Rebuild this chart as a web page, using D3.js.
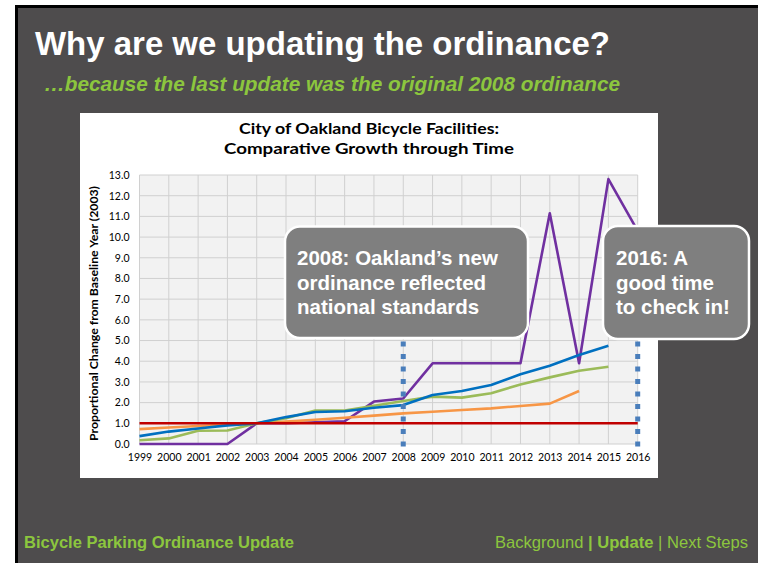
<!DOCTYPE html>
<html><head><meta charset="utf-8">
<script src="https://cdn.jsdelivr.net/npm/d3@7"></script>
<style>
html,body{margin:0;padding:0;background:#fff;}
svg{display:block;}
</style></head>
<body>
<script>
// ---- data ----
const years = [1999,2000,2001,2002,2003,2004,2005,2006,2007,2008,2009,2010,2011,2012,2013,2014,2015,2016];
const purpleValues = [0,0,0,0,1.0,1.0,1.05,1.1,2.05,2.2,3.9,3.9,3.9,3.9,11.15,3.9,12.8,10.3];
const orangeValues = [0.72,0.8,0.87,0.94,1.0,1.08,1.17,1.27,1.37,1.48,1.56,1.64,1.72,1.84,1.95,2.56,null,null];
const greenValues  = [0.18,0.27,0.64,0.65,1.0,1.24,1.62,1.62,1.85,2.08,2.29,2.24,2.45,2.88,3.22,3.54,3.73,null];
const blueValues   = [0.38,0.6,0.75,0.9,1.0,1.3,1.55,1.58,1.75,1.88,2.37,2.56,2.85,3.37,3.78,4.3,4.75,null];
const redValues    = [1,1,1,1,1,1,1,1,1,1,1,1,1,1,1,1,1,1];
const yTicks = [0,1,2,3,4,5,6,7,8,9,10,11,12,13];
const markerYears = [2008, 2016];
const markerRange = [4.95, -0.2];
const chartTitle = ["City of Oakland Bicycle Facilities:", "Comparative Growth through Time"];
const yAxisTitle = "Proportional Change from Baseline Year (2003)";
const slideTitle = "Why are we updating the ordinance?";
const slideSubtitle = "\u2026because the last update was the original 2008 ordinance";
const callout1 = ["2008: Oakland\u2019s new", "ordinance reflected", "national standards"];
const callout2 = ["2016: A", "good time", "to check in!"];
const footerLeft = "Bicycle Parking Ordinance Update";
const footerRight = [["Background ", false], ["| Update", true], [" | Next Steps", false]];

const W = 758, H = 563;
const svg = d3.select("body").append("svg").attr("width", W).attr("height", H);

// slide background
svg.append("rect").attr("x",0).attr("y",0).attr("width",W).attr("height",H).attr("fill","#fff");
svg.append("rect").attr("x",15).attr("y",5).attr("width",W-15).attr("height",H-5).attr("fill","#000");
svg.append("rect").attr("x",18).attr("y",8).attr("width",W-18).attr("height",H-8).attr("fill","#4e4c4d");

function fitText(sel, target){
  const n = sel.node();
  const w = n.getComputedTextLength();
  if (w > 0 && Math.abs(w - target) > 2) sel.attr("textLength", target).attr("lengthAdjust","spacingAndGlyphs");
}
const ARIAL = "'Liberation Sans', Arial, sans-serif";
const CAL = "Lato, 'Open Sans', sans-serif";

// titles
const t = svg.append("text").attr("x",35).attr("y",55).attr("fill","#fff")
  .style("font-family",ARIAL).style("font-size","34px").style("font-weight","bold")
  .text(slideTitle);
fitText(t, 575);
const st = svg.append("text").attr("x",44).attr("y",91).attr("fill","#8cc63e")
  .style("font-family",ARIAL).style("font-size","20.5px").style("font-weight","bold").style("font-style","italic")
  .text(slideSubtitle);
fitText(st, 576);

// chart white box
svg.append("rect").attr("x",80).attr("y",113).attr("width",578).attr("height",365).attr("fill","#fff");

// chart title
const ctW = [260, 290];
chartTitle.forEach((s,i)=>{
  const tt = svg.append("text").attr("x",369).attr("y",134 + i*20).attr("text-anchor","middle").attr("fill","#000")
    .style("font-family",CAL).style("font-size","16px").style("font-weight","bold")
    .text(s);
  fitText(tt, ctW[i]);
});

// scales
const x = d3.scaleLinear().domain([1999,2016]).range([139.5,637.7]);
const y = d3.scaleLinear().domain([0,13]).range([444,175]);

const plot = svg.append("g");
plot.append("rect").attr("x",x(1999)).attr("y",y(13)).attr("width",x(2016)-x(1999)).attr("height",y(0)-y(13)).attr("fill","#f2f2f2");
// grid
plot.selectAll("line.h").data(yTicks).join("line").attr("class","h")
  .attr("x1",x(1999)).attr("x2",x(2016)).attr("y1",d=>y(d)).attr("y2",d=>y(d))
  .attr("stroke","#d0d0d0").attr("stroke-width",1);
plot.selectAll("line.v").data(years).join("line").attr("class","v")
  .attr("x1",d=>x(d)).attr("x2",d=>x(d)).attr("y1",y(13)).attr("y2",y(0))
  .attr("stroke","#d0d0d0").attr("stroke-width",1);

// axes
const yAxis = d3.axisLeft(y).tickValues(yTicks).tickFormat(d3.format(".1f")).tickSize(0).tickPadding(10);
const gy = svg.append("g").attr("transform",`translate(${x(1999)},0)`).call(yAxis);
gy.select(".domain").remove();
gy.selectAll("text").style("font-family",CAL).style("font-size","10.5px").attr("fill","#000");

const xAxis = d3.axisBottom(x).tickValues(years).tickFormat(d3.format("d")).tickSize(0).tickPadding(10);
const gx = svg.append("g").attr("transform",`translate(0,${y(0)})`).call(xAxis);
gx.select(".domain").remove();
gx.selectAll("text").style("font-family",CAL).style("font-size","10.5px").attr("fill","#000");

const yt = svg.append("text").attr("transform",`translate(98,${(y(0)+y(13))/2+4}) rotate(-90)`).attr("text-anchor","middle")
  .style("font-family",CAL).style("font-size","11.5px").style("font-weight","bold").attr("fill","#000")
  .text(yAxisTitle);
fitText(yt, 255);

// lines
const line = d3.line().defined(d=>d[1]!==null).x(d=>x(d[0])).y(d=>y(d[1]));
const series = [
  [purpleValues,"#7030a0"],
  [orangeValues,"#f79646"],
  [greenValues,"#9bbb59"],
  [blueValues,"#0070c0"],
  [redValues,"#c00000"]
];
series.forEach(([vals,col])=>{
  svg.append("path").datum(years.map((yr,i)=>[yr,vals[i]])).attr("d",line)
    .attr("fill","none").attr("stroke",col).attr("stroke-width",2.6).attr("stroke-linejoin","round");
});

// dotted markers
svg.selectAll("line.mk").data(markerYears).join("line").attr("class","mk")
  .attr("x1",d=>x(d)).attr("x2",d=>x(d)).attr("y1",y(markerRange[0])).attr("y2",y(markerRange[1]))
  .attr("stroke","#4a7ebb").attr("stroke-width",5).attr("stroke-dasharray","5 7.5");

// callouts
function callout(x0,y0,w,h,lines,tx,ty){
  svg.append("rect").attr("x",x0).attr("y",y0).attr("width",w).attr("height",h).attr("rx",15).attr("ry",15)
    .attr("fill","#7f7f7f").attr("stroke","#fff").attr("stroke-width",2.5);
  lines.forEach((s,i)=>{
    svg.append("text").attr("x",tx).attr("y",ty+i*24.5).attr("fill","#fff")
      .style("font-family",ARIAL).style("font-size","20.5px").style("font-weight","bold")
      .text(s);
  });
}
callout(285,226.5,243,111.5,callout1,297,265);
callout(603,226,146,113,callout2,616,265);

// footer
const fl = svg.append("text").attr("x",24).attr("y",548).attr("fill","#8cc63e")
  .style("font-family",ARIAL).style("font-size","17px").style("font-weight","bold")
  .text(footerLeft);
fitText(fl, 270);
const fr = svg.append("text").attr("x",495).attr("y",548).attr("fill","#8cc63e")
  .style("font-family",ARIAL).style("font-size","17px");
footerRight.forEach(([s,b])=>{ fr.append("tspan").style("font-weight",b?"bold":"normal").text(s); });
fitText(fr, 253);
</script>
</body></html>
